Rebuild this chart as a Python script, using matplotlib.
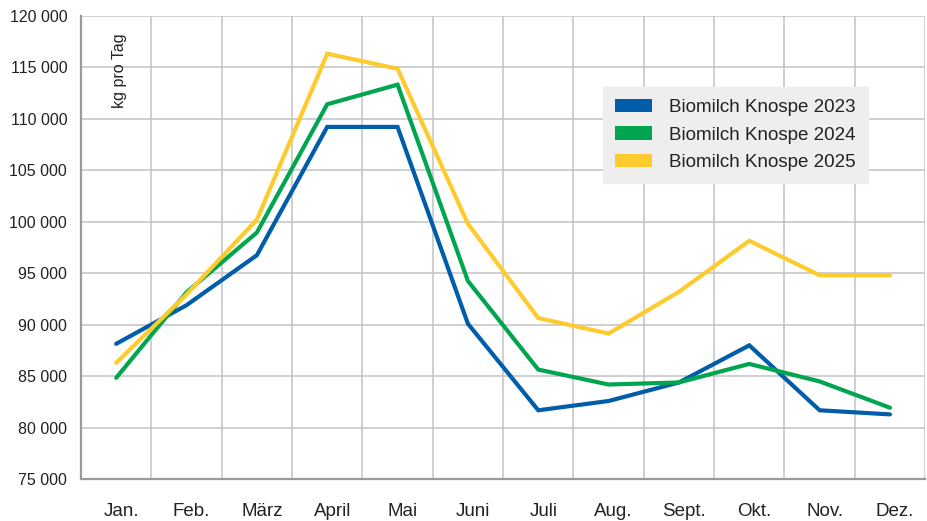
import numpy as np
import matplotlib
matplotlib.use("Agg")
import matplotlib.pyplot as plt
from matplotlib.patches import Patch
from matplotlib.transforms import ScaledTranslation

# Monate und Werte (kg pro Tag)
monate = ["Jan.", "Feb.", "März", "April", "Mai", "Juni",
          "Juli", "Aug.", "Sept.", "Okt.", "Nov.", "Dez."]
milch_2023 = [88150, 91900, 96750, 109200, 109200, 90100,
              81700, 82600, 84400, 88000, 81700, 81300]
milch_2024 = [84850, 93150, 98950, 111400, 113300, 94250,
              85650, 84200, 84400, 86200, 84500, 81950]
milch_2025 = [86300, 92950, 100200, 116300, 114850, 99800,
              90650, 89150, 93200, 98150, 94800, 94800]
serien = ["Biomilch Knospe 2023", "Biomilch Knospe 2024", "Biomilch Knospe 2025"]
farben = ["#005DA9", "#00A54F", "#FDCB2D"]

y_ticks = np.arange(75000, 120001, 5000)
y_labels = ["75 000", "80 000", "85 000", "90 000", "95 000", "100 000",
            "105 000", "110 000", "115 000", "120 000"]

plt.rcParams["font.family"] = ["Liberation Sans", "DejaVu Sans"]

fig = plt.figure(figsize=(9.27, 5.21), dpi=100)
ax = fig.add_axes([0.0874, 0.080, 0.9106, 0.890])

x = np.arange(len(monate))
for werte, name, farbe in zip([milch_2023, milch_2024, milch_2025], serien, farben):
    ax.plot(x, werte, color=farbe, lw=3.0, solid_capstyle="round",
            solid_joinstyle="miter", label=name, zorder=3)

ax.set_xlim(-0.5, len(monate) - 0.5)
ax.set_ylim(75000, 120000)

# Gitter: horizontale Linien an den Werten, vertikale zwischen den Monaten
ax.set_yticks(y_ticks)
ax.set_yticklabels(y_labels, fontsize=11.5, color="#222222")
ax.set_xticks(x)
ax.set_xticklabels(monate, fontsize=13.5, color="#222222")
ax.set_xticks(np.arange(-0.5, len(monate)), minor=True)
ax.tick_params(axis="both", which="both", length=0)
ax.tick_params(axis="x", pad=17)
ax.tick_params(axis="y", pad=10)
for lab in ax.get_xticklabels():
    lab.set_transform(lab.get_transform() + ScaledTranslation(0.05, 0, fig.dpi_scale_trans))

ax.grid(True, axis="y", which="major", color="#C2C2C2", lw=1.1)
ax.grid(True, axis="x", which="minor", color="#C2C2C2", lw=1.1)
ax.set_axisbelow(True)

for s in ["top", "right"]:
    ax.spines[s].set_visible(False)
for s in ["left", "bottom"]:
    ax.spines[s].set_color("#9A9A9A")
    ax.spines[s].set_linewidth(1.6)

ax.text(0.046, 0.962, "kg pro Tag", transform=ax.transAxes, rotation=90,
        ha="center", va="top", fontsize=11.5, color="#222222")

handles = [Patch(facecolor=f, edgecolor="none") for f in farben]
leg = ax.legend(handles, serien, loc="upper left", bbox_to_anchor=(0.618, 0.847),
                borderaxespad=0, fontsize=13.5, frameon=True, fancybox=False,
                facecolor="#EEEEEE", edgecolor="#EEEEEE", framealpha=1,
                handlelength=2.0, handleheight=0.72, handletextpad=0.9,
                labelspacing=0.55, borderpad=0.65)
for t in leg.get_texts():
    t.set_color("#222222")

fig.savefig("out.png", dpi=100)
